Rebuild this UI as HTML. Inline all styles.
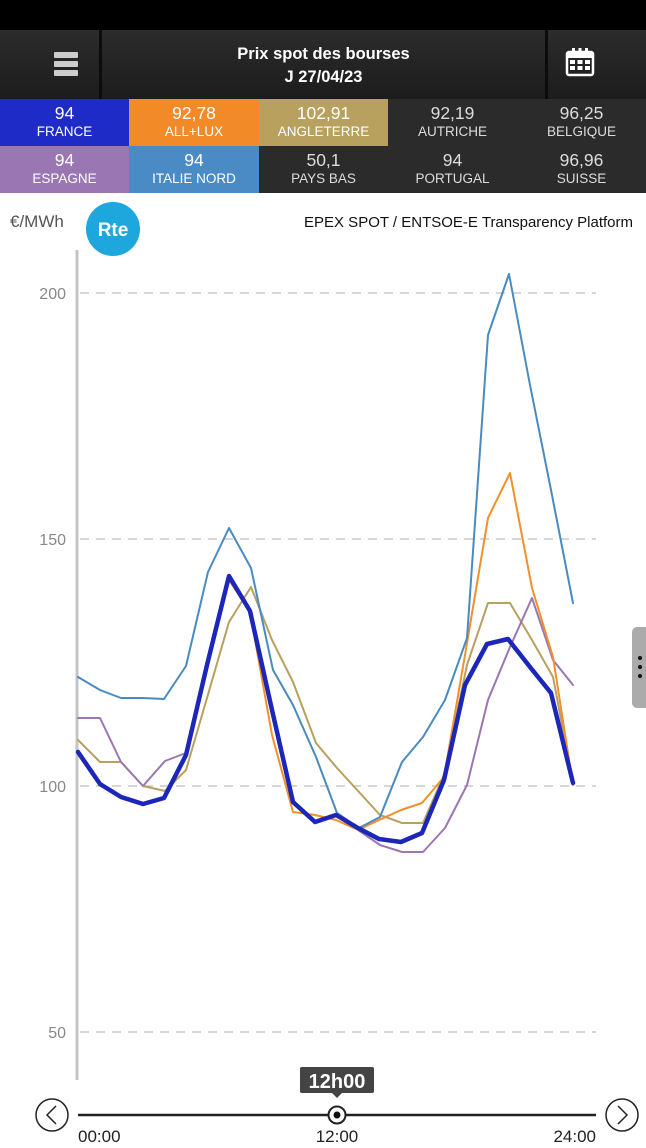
<!DOCTYPE html>
<html><head><meta charset="utf-8">
<style>
html,body{margin:0;padding:0;background:#fff;}
body{width:646px;height:1148px;position:relative;overflow:hidden;font-family:"Liberation Sans",Arial,sans-serif;}
.status{position:absolute;left:0;top:0;width:646px;height:30px;background:#000;}
.hdr{position:absolute;left:0;top:30px;width:646px;height:69px;background:linear-gradient(#2c2c2c,#1c1c1c);}
.title{position:absolute;left:101px;top:30px;width:445px;height:69px;text-align:center;color:#fff;font-weight:bold;font-size:16.5px;line-height:23px;padding-top:13px;box-sizing:border-box;}
.div1{position:absolute;left:99px;top:30px;width:3px;height:69px;background:#0c0c0c;}
.div2{position:absolute;left:545px;top:30px;width:3px;height:69px;background:#0c0c0c;}
.tile{position:absolute;height:47px;text-align:center;color:#fff;box-sizing:border-box;padding-top:5px;}
.tile .v{font-size:17.5px;line-height:19px;}
.tile .l{font-size:13.5px;line-height:17px;}
.dk{background:#2b2b2b;color:#dcdcdc;}
</style></head><body>
<div class="status"></div>
<div class="hdr"></div>
<div class="div1"></div><div class="div2"></div>
<div style="position:absolute;left:54px;top:52px;width:24px;height:6px;background:#ccc;border-radius:1px"></div>
<div style="position:absolute;left:54px;top:61px;width:24px;height:6px;background:#ccc;border-radius:1px"></div>
<div style="position:absolute;left:54px;top:70px;width:24px;height:6px;background:#ccc;border-radius:1px"></div>
<svg style="position:absolute;left:564px;top:46px" width="32" height="32" viewBox="0 0 32 32">
<rect x="3" y="6" width="26" height="23" rx="2" fill="none" stroke="#fff" stroke-width="2.5"/>
<rect x="3" y="6" width="26" height="6" fill="#fff"/>
<rect x="8" y="2" width="3" height="7" fill="#fff"/><rect x="14.5" y="2" width="3" height="7" fill="#fff"/><rect x="21" y="2" width="3" height="7" fill="#fff"/>
<g fill="#fff"><rect x="6" y="14" width="5" height="4"/><rect x="13.5" y="14" width="5" height="4"/><rect x="21" y="14" width="5" height="4"/>
<rect x="6" y="20" width="5" height="4"/><rect x="13.5" y="20" width="5" height="4"/><rect x="21" y="20" width="5" height="4"/></g>
</svg>
<div class="title">Prix spot des bourses<br>J 27/04/23</div>

<div class="tile" style="left:0;top:99px;width:129px;background:#1f2bc6"><div class="v">94</div><div class="l">FRANCE</div></div>
<div class="tile" style="left:129px;top:99px;width:130px;background:#f28a28"><div class="v">92,78</div><div class="l">ALL+LUX</div></div>
<div class="tile" style="left:259px;top:99px;width:129px;background:#b8a05e"><div class="v">102,91</div><div class="l">ANGLETERRE</div></div>
<div class="tile dk" style="left:388px;top:99px;width:129px"><div class="v">92,19</div><div class="l">AUTRICHE</div></div>
<div class="tile dk" style="left:517px;top:99px;width:129px"><div class="v">96,25</div><div class="l">BELGIQUE</div></div>
<div class="tile" style="left:0;top:146px;width:129px;background:#9a77b3"><div class="v">94</div><div class="l">ESPAGNE</div></div>
<div class="tile" style="left:129px;top:146px;width:130px;background:#4a8bc6"><div class="v">94</div><div class="l">ITALIE NORD</div></div>
<div class="tile dk" style="left:259px;top:146px;width:129px"><div class="v">50,1</div><div class="l">PAYS BAS</div></div>
<div class="tile dk" style="left:388px;top:146px;width:129px"><div class="v">94</div><div class="l">PORTUGAL</div></div>
<div class="tile dk" style="left:517px;top:146px;width:129px"><div class="v">96,96</div><div class="l">SUISSE</div></div>

<svg style="position:absolute;left:0;top:0" width="646" height="1148">
<text x="10" y="227" font-size="17" fill="#555" font-family="Liberation Sans, sans-serif">€/MWh</text>
<circle cx="113" cy="229" r="27" fill="#1ea7dd"/>
<text x="113" y="236" font-size="19" font-weight="bold" fill="#fff" text-anchor="middle" font-family="Liberation Sans, sans-serif">Rte</text>
<text x="633" y="227" font-size="15" fill="#111" text-anchor="end" font-family="Liberation Sans, sans-serif">EPEX SPOT / ENTSOE-E Transparency Platform</text>

<g stroke="#c8c8c8" stroke-width="1.5" stroke-dasharray="9,7">
<line x1="80" y1="293" x2="596" y2="293"/>
<line x1="80" y1="539" x2="596" y2="539"/>
<line x1="80" y1="786" x2="596" y2="786"/>
<line x1="80" y1="1032" x2="596" y2="1032"/>
</g>
<g font-size="16" fill="#888" text-anchor="end" font-family="Liberation Sans, sans-serif">
<text x="66" y="299">200</text>
<text x="66" y="545">150</text>
<text x="66" y="792">100</text>
<text x="66" y="1038">50</text>
</g>
<line x1="77" y1="250" x2="77" y2="1080" stroke="#c4c4c4" stroke-width="3"/>

<g fill="none" stroke-linejoin="round" stroke-linecap="round">
<polyline stroke="#b8a05e" stroke-width="2" points="78,740 100,762 121,762 143,786 165,791 186,770 207,698 229,622 251,587 272,640 293,682 316,743 337,768 359,792 380,815 402,823 423,823 444,775 467,665 488,603 510,603 532,640 553,677 573,783"/>
<polyline stroke="#9a77b3" stroke-width="2" points="78,718 100,718 121,762 143,786 165,761 186,753 207,668 229,578 250,612 272,712 293,802 315,822 336,815 358,830 380,845 402,852 423,852 445,828 467,785 488,700 510,647 532,598 553,660 573,685"/>
<polyline stroke="#f0902a" stroke-width="2" points="78,752 100,784 121,797 143,804 164,798 186,755 207,668 229,580 250,612 272,735 293,812 315,815 336,820 358,830 379,820 401,810 422,803 444,777 465,655 488,518 510,473 532,588 553,657 573,785"/>
<polyline stroke="#4a8bbf" stroke-width="2" points="78,677 100,690 121,698 143,698 164,699 186,666 208,572 229,528 251,568 273,670 293,705 316,757 337,813 359,828 380,817 402,762 423,737 445,700 467,638 488,335 509,274 530,385 551,490 573,603"/>
<polyline stroke="#1c26b8" stroke-width="4.5" points="78,752 100,784 121,797 143,804 164,798 186,755 207,665 229,576 250,611 272,710 293,802 315,822 336,815 358,828 379,839 401,842 422,833 444,780 465,685 487,644 508,639 530,667 551,693 573,783"/>
</g>

<rect x="632" y="627" width="20" height="81" rx="5" fill="#ababab"/>
<circle cx="640" cy="658" r="2" fill="#111"/><circle cx="640" cy="667" r="2" fill="#111"/><circle cx="640" cy="676" r="2" fill="#111"/>

<rect x="300" y="1067" width="74" height="26" rx="2" fill="#444"/>
<path d="M332,1093 L337,1098 L342,1093 Z" fill="#444"/>
<text x="337" y="1088" font-size="20" font-weight="bold" fill="#fff" text-anchor="middle" font-family="Liberation Sans, sans-serif">12h00</text>

<line x1="78" y1="1115" x2="596" y2="1115" stroke="#222" stroke-width="2.5"/>
<circle cx="337" cy="1115" r="8.5" fill="#fff" stroke="#222" stroke-width="2"/>
<circle cx="337" cy="1115" r="3.5" fill="#111"/>
<circle cx="52" cy="1115" r="16" fill="#fff" stroke="#222" stroke-width="1.5"/>
<polyline points="56,1106 47,1115 56,1124" fill="none" stroke="#222" stroke-width="1.5"/>
<circle cx="622" cy="1115" r="16" fill="#fff" stroke="#222" stroke-width="1.5"/>
<polyline points="618,1106 627,1115 618,1124" fill="none" stroke="#222" stroke-width="1.5"/>
<g font-size="17" fill="#222" font-family="Liberation Sans, sans-serif">
<text x="78" y="1142">00:00</text>
<text x="337" y="1142" text-anchor="middle">12:00</text>
<text x="596" y="1142" text-anchor="end">24:00</text>
</g>
</svg>
</body></html>
